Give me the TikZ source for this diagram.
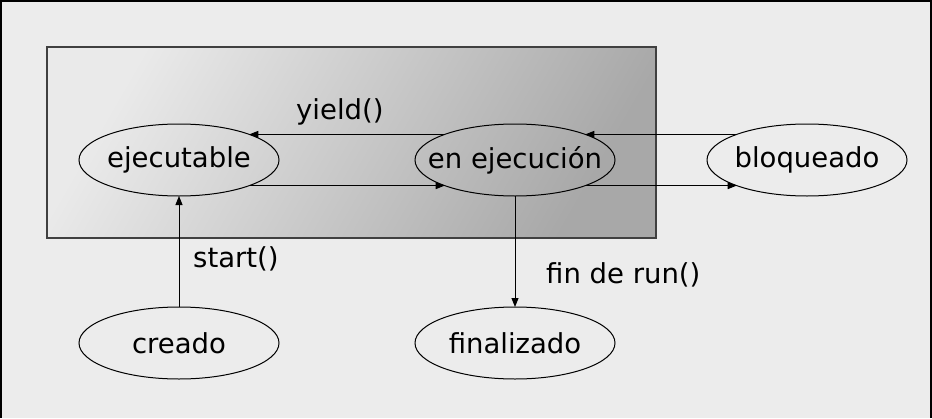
\documentclass[tikz,border=0pt]{standalone}
\usepackage{fontspec}
\setmainfont{DejaVu Sans}
\usetikzlibrary{shapes.geometric, arrows.meta, positioning}
\definecolor{bgpaper}{RGB}{236,236,236}
\definecolor{boxlight}{RGB}{234,234,234}
\definecolor{boxdark}{RGB}{168,168,168}
\definecolor{boxedge}{RGB}{64,64,64}
\newcommand{\stname}[1]{\makebox[0pt]{#1}}
\tikzstyle{state} = [ellipse, draw=black, line width=1pt, minimum width=200pt, minimum height=72pt, inner sep=0pt, outer sep=0pt, font=\fontsize{27.5}{30}\selectfont]
\tikzstyle{lbl} = [inner sep=0pt, anchor=base west, font=\fontsize{27.5}{30}\selectfont]
\tikzstyle{arrow} = [line width=1pt, -{Triangle[length=9pt,width=7pt]}]

\begin{document}
\begin{tikzpicture}[x=1pt, y=-1pt]
\useasboundingbox (0,0) rectangle (932,418);
\fill[bgpaper] (0,0) rectangle (932,418);
\draw[line width=2pt] (1,418) -- (1,1) -- (931,1) -- (931,418);
\shade[left color=boxlight, right color=boxdark, shading angle=60] (47,47) rectangle (656,238);
\draw[boxedge, line width=1.5pt] (47,47) rectangle (656,238);

\node (ejec) [state] at (179,160) {\stname{ejecutable}};
\node (run) [state, right=136pt of ejec] {\stname{en ejecución}};
\node (bloq) [state, right=92pt of run] {\stname{bloqueado}};
\node (creado) [state, below=111pt of ejec] {\stname{creado}};
\node (fin) [state, below=111pt of run] {\stname{finalizado}};

\draw[arrow] (run.160) -- (ejec.20);
\draw[arrow] (ejec.-20) -- (run.200);
\draw[arrow] (bloq.160) -- (run.20);
\draw[arrow] (run.-20) -- (bloq.200);
\draw[arrow] (creado) -- (ejec);
\draw[arrow] (run) -- (fin);

\node (yield_lbl) [lbl] at (296,119) {yield()};
\node (start_lbl) [lbl] at (193,267) {start()};
\node (fin_lbl) [lbl] at (546,283) {fin de run()};
\end{tikzpicture}
\end{document}
